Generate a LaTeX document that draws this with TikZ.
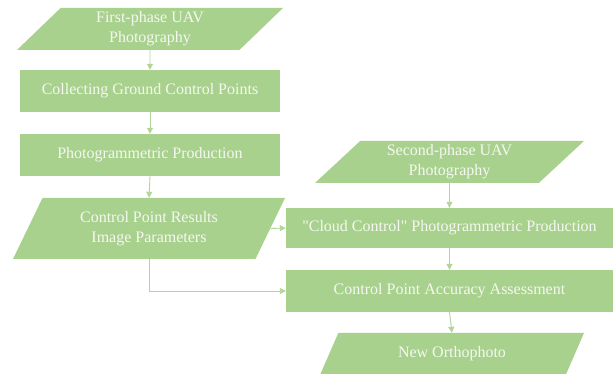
\documentclass[tikz,border=0pt]{standalone}
\usepackage{fontspec}
\setmainfont{Liberation Serif}[Ligatures=TeXOff]
\usetikzlibrary{shapes.geometric,arrows.meta}
\definecolor{boxgreen}{HTML}{A9D18E}
\definecolor{linegreen}{HTML}{B2D69A}
\definecolor{boxtext}{HTML}{F4F8F0}
\tikzset{
  every node/.style={font=\fontsize{16}{20}\selectfont, text=boxtext, align=center, inner sep=0pt},
  procbox/.style={rectangle, fill=boxgreen, minimum height=42pt},
  databox/.style={trapezium, fill=boxgreen, trapezium stretches body=true,
    trapezium left angle=#1, trapezium right angle={180-#1}},
  flow/.style={draw=linegreen, line width=0.9pt, -{Triangle[width=6pt,length=6pt]}}
}
\begin{document}
\begin{tikzpicture}[x=1pt,y=-1pt]
\useasboundingbox (0,0) rectangle (614,374);
\fill[white] (0,0) rectangle (614,374);

% left column
\node[databox=38.4, minimum width=266pt, minimum height=42pt] (uav1) at (150,29) {First-phase UAV\\Photography};
\node[procbox, minimum width=260pt] (gcp) at (150,91) {Collecting Ground Control Points};
\node[procbox, minimum width=260pt] (photo) at (150,155) {Photogrammetric Production};
\node[databox=49.5, minimum width=272pt, minimum height=61pt] (result) at (149,228.5) {Control Point Results\\Image Parameters};

% right column
\node[databox=37.4, minimum width=269pt, minimum height=42pt] (uav2) at (449.5,162) {Second-phase UAV\\Photography};
\node[procbox, minimum width=327pt, minimum height=40pt] (cloud) at (449.5,228) {"Cloud Control" Photogrammetric Production};
\node[procbox, minimum width=327pt] (assess) at (449.5,291) {Control Point Accuracy Assessment};
\node[databox=38.4, minimum width=264pt, minimum height=42pt] (ortho) at (452,354) {New Orthophoto};

% connectors
\draw[flow] (uav1.south) -- (gcp.north);
\draw[flow] (gcp.south) -- (photo.north);
\draw[flow] (photo.south) -- (result.north);
\draw[flow] (result.east) -- (cloud.west);
\draw[flow] (result.south) |- (assess.west);
\draw[flow] (uav2.south) -- (cloud.north);
\draw[flow] (cloud.south) -- (assess.north);
\draw[flow] (assess.south) -- (ortho.north);
\end{tikzpicture}
\end{document}
